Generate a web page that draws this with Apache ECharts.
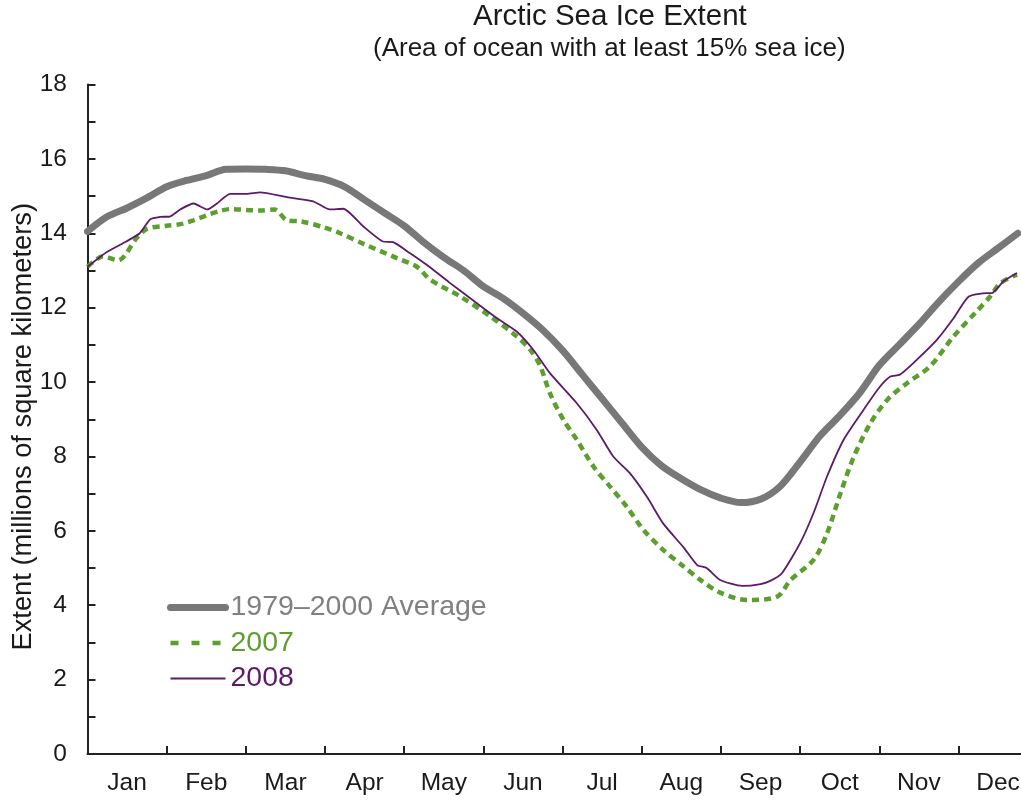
<!DOCTYPE html>
<html>
<head>
<meta charset="utf-8">
<script src="https://cdn.jsdelivr.net/npm/echarts@6/dist/echarts.min.js"></script>
<style>
html,body{margin:0;padding:0;background:#fff;}
#chart{width:1021px;height:800px;}
</style>
</head>
<body>
<div id="chart"></div>
<script>
// ---- data (x in months from Jan 1; y in millions of km²) ----
const months = ['Jan','Feb','Mar','Apr','May','Jun','Jul','Aug','Sep','Oct','Nov','Dec'];
const monthTicks = [1,2,3,4,5,6,7,8,9,10,11];
const monthLabelPos = [0.5,1.5,2.5,3.5,4.5,5.5,6.5,7.5,8.5,9.5,10.5,11.5];

const avgX = [0,0.25,0.5,0.75,1,1.25,1.5,1.75,2,2.25,2.5,2.75,3,3.25,3.5,3.75,4,4.25,4.5,4.75,5,5.25,5.5,5.75,6,6.25,6.5,6.75,7,7.25,7.5,7.75,8,8.25,8.5,8.75,9,9.25,9.5,9.75,10,10.25,10.5,10.75,11,11.25,11.5,11.75];
const avgY = [14.05,14.45,14.68,14.95,15.25,15.42,15.55,15.72,15.73,15.72,15.68,15.55,15.45,15.25,14.9,14.55,14.2,13.75,13.35,13.0,12.57,12.25,11.85,11.4,10.85,10.2,9.55,8.9,8.25,7.75,7.4,7.1,6.88,6.76,6.85,7.2,7.85,8.55,9.1,9.7,10.45,11.0,11.55,12.15,12.7,13.2,13.6,14.0];

const y2007X = [0,0.2,0.39,0.47,0.62,0.75,1.0,1.21,1.34,1.5,1.67,1.8,2.18,2.36,2.52,2.7,3.0,3.19,3.5,3.9,4.16,4.33,4.71,5.09,5.42,5.59,5.72,5.84,6.01,6.18,6.39,6.6,6.81,7.02,7.27,7.53,7.74,7.99,8.33,8.71,8.88,9.17,9.34,9.51,9.68,9.89,10.1,10.35,10.64,10.94,11.23,11.4,11.53,11.74];
const y2007Y = [13.1,13.38,13.27,13.4,13.87,14.12,14.2,14.26,14.35,14.48,14.6,14.65,14.61,14.64,14.35,14.32,14.15,14.0,13.7,13.34,13.1,12.75,12.3,11.76,11.23,10.87,10.42,9.7,8.99,8.45,7.73,7.19,6.65,6.03,5.49,5.04,4.68,4.34,4.14,4.23,4.68,5.22,5.93,7.01,8.0,8.9,9.52,9.97,10.42,11.23,11.9,12.3,12.66,12.89];

const y2008X = [0,0.24,0.49,0.66,0.79,0.92,1.04,1.17,1.34,1.51,1.64,1.8,2.01,2.18,2.52,2.85,3.06,3.23,3.48,3.73,3.86,4.07,4.33,4.58,4.83,5.17,5.42,5.63,5.84,6.18,6.43,6.64,6.85,7.07,7.27,7.53,7.7,7.82,7.99,8.27,8.5,8.63,8.77,9.0,9.17,9.34,9.55,9.8,10.01,10.14,10.26,10.43,10.73,10.94,11.13,11.36,11.42,11.57,11.74];
const y2008Y = [13.1,13.49,13.78,14.0,14.37,14.44,14.45,14.64,14.8,14.64,14.81,15.06,15.06,15.1,14.97,14.86,14.64,14.66,14.19,13.78,13.76,13.47,13.08,12.66,12.26,11.72,11.36,10.87,10.24,9.43,8.72,8.0,7.55,6.9,6.2,5.55,5.08,5.0,4.68,4.52,4.57,4.66,4.86,5.67,6.48,7.46,8.45,9.25,9.88,10.15,10.2,10.51,11.14,11.72,12.3,12.39,12.39,12.71,12.93];

const seriesNames = ['1979\u20132000 Average','2007','2008'];

// ---- chart ----
const FONT = "'Liberation Sans', Arial, Helvetica, sans-serif";
const zip = (xs, ys) => xs.map((x, i) => [x, ys[i]]);
const chart = echarts.init(document.getElementById('chart'), null, {renderer: 'canvas'});

const axisColor = '#222';
const cAvg = '#787878', c07 = '#5c9f2e', c08 = '#5d1a6a';
const hiddenSymbol = {opacity: 0, borderWidth: 0, color: 'rgba(0,0,0,0)'};
const option = {
  animation: false,
  backgroundColor: '#fff',
  title: [
    {text: 'Arctic Sea Ice Extent', left: 473, top: 2, padding: 0,
     textStyle: {fontFamily: FONT, fontSize: 29.5, fontWeight: 'normal', color: '#1a1a1a'}},
    {text: '(Area of ocean with at least 15% sea ice)', left: 373, top: 36, padding: 0,
     textStyle: {fontFamily: FONT, fontSize: 26, fontWeight: 'normal', color: '#1a1a1a'}}
  ],
  legend: {
    orient: 'vertical', left: 167, top: 593, padding: 0,
    itemWidth: 55, itemHeight: 14, itemGap: 6.5, itemTextGap: 3,
    textStyle: {fontFamily: FONT, fontSize: 28.5},
    itemStyle: hiddenSymbol,
    data: [
      {name: seriesNames[0], textStyle: {color: '#808080'}, itemStyle: hiddenSymbol,
       lineStyle: {color: cAvg, width: 7, type: 'solid', cap: 'round'}},
      {name: seriesNames[1], textStyle: {color: c07}, itemStyle: hiddenSymbol,
       lineStyle: {color: c07, width: 4.5, type: [8, 13]}},
      {name: seriesNames[2], textStyle: {color: c08}, itemStyle: hiddenSymbol,
       lineStyle: {color: c08, width: 1.8, type: 'solid'}}
    ]
  },
  grid: {left: 87.5, right: 0, top: 84.5, bottom: 46, containLabel: false, outerBoundsMode: 'none'},
  xAxis: {
    type: 'value', min: 0, max: 11.79,
    splitLine: {show: false},
    axisLine: {show: true, onZero: false, lineStyle: {color: axisColor, width: 2}},
    axisTick: {show: true, inside: true, length: 8, lineStyle: {color: axisColor, width: 2}, customValues: monthTicks},
    axisLabel: {customValues: monthLabelPos, formatter: v => months[Math.floor(v)],
      margin: 17, fontFamily: FONT, fontSize: 24.5, color: '#1a1a1a'}
  },
  yAxis: {
    type: 'value', min: 0, max: 18, interval: 1,
    name: 'Extent (millions of square kilometers)', nameLocation: 'middle', nameGap: 51, nameRotate: 90,
    nameMoveOverlap: false,
    nameTextStyle: {fontFamily: FONT, fontSize: 27.3, color: '#1a1a1a', padding: [0, 15, 0, 0]},
    splitLine: {show: false},
    axisLine: {show: true, lineStyle: {color: axisColor, width: 2}},
    axisTick: {show: true, inside: true, length: 8, lineStyle: {color: axisColor, width: 2}},
    axisLabel: {formatter: v => (v % 2 === 0 ? String(v) : ''), margin: 20.5,
      fontFamily: FONT, fontSize: 24.5, color: '#1a1a1a'}
  },
  series: [
    {name: seriesNames[0], type: 'line', data: zip(avgX, avgY), symbol: 'none', smooth: 0.3,
     lineStyle: {color: cAvg, width: 7, cap: 'round', join: 'round'}, itemStyle: {color: cAvg}, z: 2},
    {name: seriesNames[1], type: 'line', data: zip(y2007X, y2007Y), symbol: 'none', smooth: 0.3,
     lineStyle: {color: c07, width: 4.5, type: [7, 5]}, itemStyle: {color: c07}, z: 3},
    {name: seriesNames[2], type: 'line', data: zip(y2008X, y2008Y), symbol: 'none', smooth: 0.2,
     lineStyle: {color: c08, width: 1.8}, itemStyle: {color: c08}, z: 4}
  ]
};
chart.setOption(option);
</script>
</body>
</html>
